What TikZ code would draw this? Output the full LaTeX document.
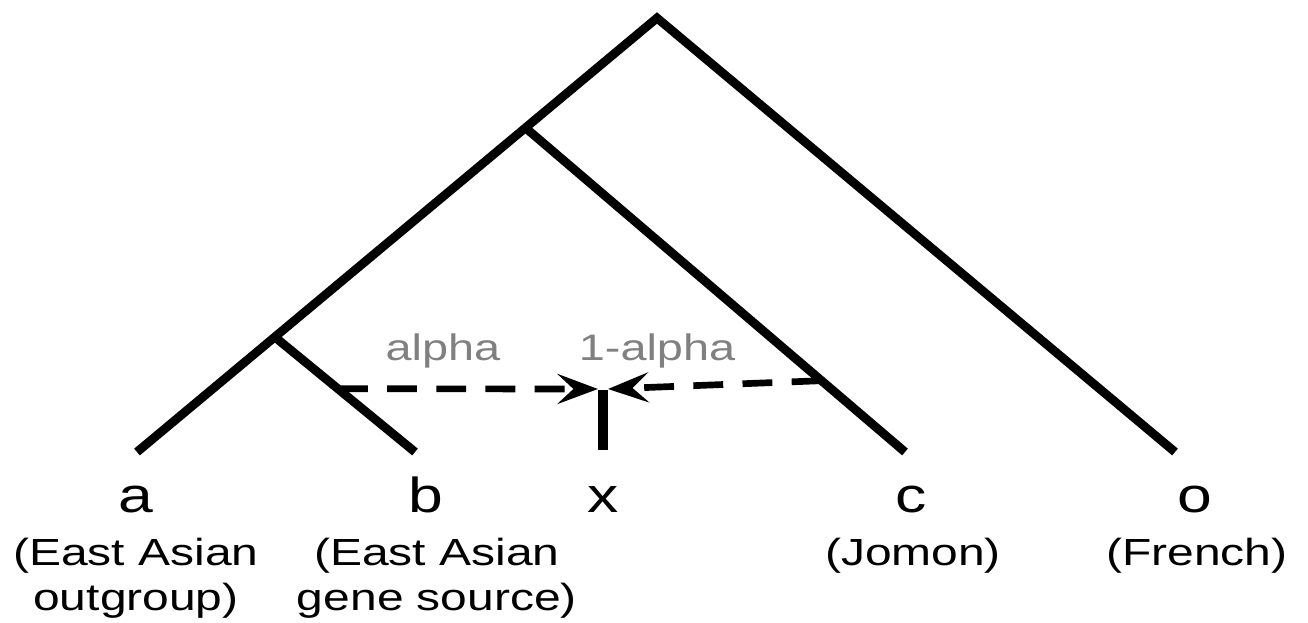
\documentclass[tikz,border=0pt]{standalone}
\usepackage{fontspec}
\setmainfont{Liberation Sans}[FakeStretch=1.27]
\usetikzlibrary{arrows.meta,calc}

\begin{document}
\begin{tikzpicture}[
  x=0.02cm, y=-0.02cm,
  branch/.style={line width=5pt},
  stem/.style={line width=5.8pt},
  mix/.style={line width=3.8pt, dash pattern=on 17pt off 11pt,
              -{Stealth[length=23pt, width=17pt, inset=9pt]}},
  leaf/.style={font=\fontsize{28}{33}\selectfont, anchor=base, inner sep=0pt},
  pop/.style={font=\fontsize{21.5}{25.5}\selectfont, align=center,
              anchor=base, inner sep=0pt},
  share/.style={font=\fontsize{21}{25}\selectfont, text=gray,
                anchor=base, inner sep=0pt}
]
  \useasboundingbox (0,0) rectangle (1308,622);

  % Tree
  \coordinate (root) at (657,18);
  \coordinate (a) at (137,452);
  \coordinate (b) at (415,452);
  \coordinate (c) at (905,452);
  \coordinate (o) at (1175,452);
  \coordinate (ac) at ($(root)!0.253!(a)$);
  \coordinate (ab) at ($(root)!0.735!(a)$);

  \draw[branch] (a) -- (root) -- (o);
  \draw[branch] (ac) -- (c);
  \draw[branch] (ab) -- (b);

  % Admixed population x
  \coordinate (xtop) at (603,390);
  \coordinate (xbot) at (603,450);
  \draw[stem] (xtop) -- (xbot);

  \coordinate (bsrc) at ($(ab)!0.45!(b)$);
  \coordinate (csrc) at ($(ac)!0.78!(c)$);
  \coordinate (xl) at (598,389);
  \coordinate (xr) at (608,389);
  \draw[mix] (bsrc) -- (xl);
  \draw[mix] (csrc) -- (xr);

  \node[share] (alpha) at (443,360) {alpha};
  \node[share] (oneminus) at (657,360) {1-alpha};

  % Leaf labels
  \node[leaf] (la) at (136,512) {a};
  \node[leaf] (lb) at (426,512) {b};
  \node[leaf] (lx) at (603,512) {x};
  \node[leaf] (lc) at (911,512) {c};
  \node[leaf] (lo) at (1195,512) {o};

  \node[pop] (pa) at (136,610) {(East Asian\\outgroup)};
  \node[pop] (pb) at (437,610) {(East Asian\\gene source)};
  \node[pop] (pc) at (913,565) {(Jomon)};
  \node[pop] (po) at (1197,565) {(French)};
\end{tikzpicture}
\end{document}
